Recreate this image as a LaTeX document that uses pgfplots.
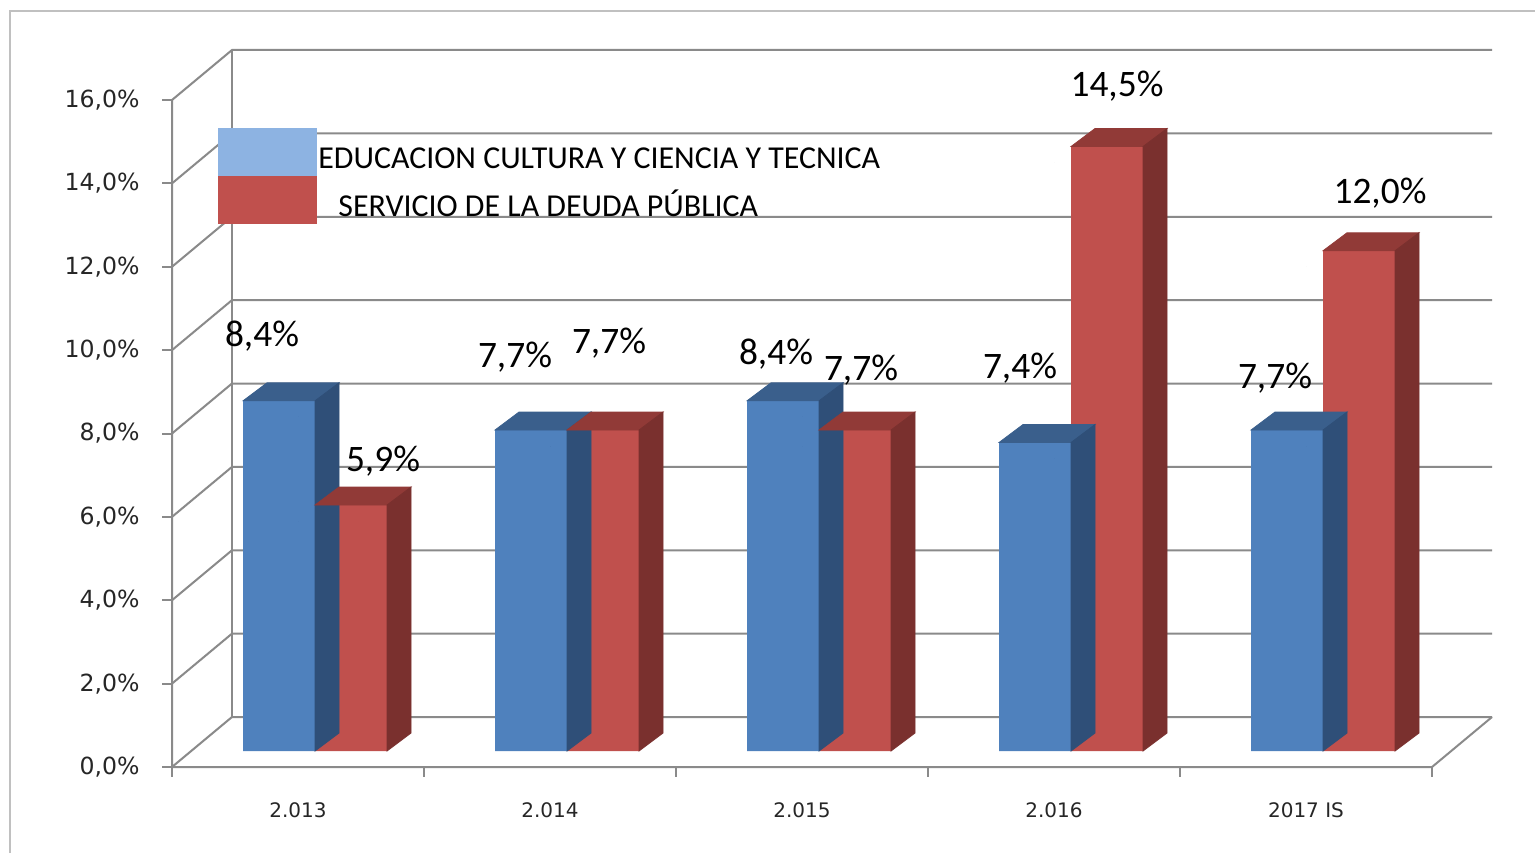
\documentclass[border=0pt]{standalone}
\usepackage{pgfplots}
\pgfplotsset{compat=1.18}
\usepackage{pgfplotstable}
\usepackage{fontspec}
\setmainfont{Carlito}
\newfontfamily\dejavu{DejaVu Sans}
\newfontfamily\carlito{Carlito}

\definecolor{bfront}{HTML}{4F81BD}
\definecolor{btop}{HTML}{3A5F8C}
\definecolor{bside}{HTML}{2F4F78}
\definecolor{rfront}{HTML}{C0504D}
\definecolor{rtop}{HTML}{913A37}
\definecolor{rside}{HTML}{7A302E}
\definecolor{legblue}{HTML}{8DB3E2}
\definecolor{gridc}{HTML}{8A8A8A}
\definecolor{borderc}{HTML}{C0C0C0}

% x = category index, y = value (%), dx/dy = label offset (pt)
\pgfplotstableread{
x y dx dy
0 8.4 -26.5 32.5
1 7.7 -26 36.5
2 8.4 -21.5 23.5
3 7.4 -25.5 37
4 7.7 -24 26
}\edu
\pgfplotstableread{
x y dx dy
0 5.9 34 22
1 7.7 21 43.5
2 7.7 21 30
3 14.5 23 30
4 12.0 28.5 29
}\deuda

\begin{document}
\begin{tikzpicture}
\useasboundingbox (0,0) rectangle (767.5pt,426.5pt);
\draw[borderc, line width=1pt] (5pt,0) -- (5pt,421pt) -- (767.5pt,421pt);
\begin{axis}[
  at={(86pt,43pt)}, anchor=south west,
  scale only axis, width=630pt, height=333.5pt,
  xmin=-0.5, xmax=4.5, ymin=0, ymax=16,
  clip=false,
  axis lines*=left,
  axis line style={draw=none},
  major tick length=0pt,
  tick style={draw=none},
  xtick={0,...,4},
  xticklabels={2.013,2.014,2.015,2.016,2017 IS},
  xticklabel style={font=\dejavu\fontsize{10pt}{12pt}\selectfont, anchor=center, inner sep=0pt, yshift=-21.5pt, text=black!85},
  ytick={0,2,4,6,8,10,12,14,16},
  yticklabel={\pgfmathprintnumber[fixed,fixed zerofill,precision=1,use comma]{\tick}\%},
  yticklabel style={font=\dejavu\fontsize{11.8pt}{14pt}\selectfont, anchor=east, inner sep=0pt, xshift=-16pt, text=black!85},
  /pgf/number format/assume math mode=true,
]
% walls
\pgfplotsinvokeforeach{0,2,4,6,8,10,12,14,16}{
  \draw[gridc, line width=1pt] (axis cs:-0.5,#1) -- ([shift={(30pt,25pt)}]axis cs:-0.5,#1) -- ([shift={(30pt,25pt)}]axis cs:4.5,#1);
  \draw[gridc, line width=1pt] (axis cs:-0.5,#1) -- ([shift={(-5pt,0pt)}]axis cs:-0.5,#1);
}
\draw[gridc, line width=1pt] (axis cs:-0.5,16) -- (axis cs:-0.5,0) -- (axis cs:4.5,0) -- ([shift={(30pt,25pt)}]axis cs:4.5,0);
\draw[gridc, line width=1pt] ([shift={(30pt,25pt)}]axis cs:-0.5,0) -- ([shift={(30pt,25pt)}]axis cs:-0.5,16);
\pgfplotsinvokeforeach{-0.5,0.5,1.5,2.5,3.5,4.5}{
  \draw[gridc, line width=1pt] (axis cs:#1,0) -- ([shift={(0pt,-5pt)}]axis cs:#1,0);
}

% blue series
\addplot[ybar, bar width=36pt, bar shift=-18pt, fill=bfront, draw=none,
  xshift=8.5pt, yshift=8pt,
  visualization depends on={\thisrow{dx} \as \ldx},
  visualization depends on={\thisrow{dy} \as \ldy},
  nodes near coords={\pgfmathprintnumber[fixed,fixed zerofill,precision=1,use comma]{\pgfplotspointmeta}\%},
  every node near coord/.append style={anchor=center, xshift=\ldx pt, yshift=\ldy pt,
    font=\carlito\fontsize{18.7pt}{22pt}\selectfont, text=black}]
  table[x=x,y=y]{\edu};
\addplot[only marks, scatter, mark=*, mark size=0pt, mark options={draw=none,fill=none},
  visualization depends on={\thisrow{y}*20.84375 \as \h},
  scatter/@pre marker code/.code={
    \fill[btop] (-27.5pt,8pt) -- (8.5pt,8pt) -- (20.5pt,17pt) -- (-15.5pt,17pt) -- cycle;
    \fill[bside] (8.5pt,8pt) -- (8.5pt,{8pt-\h pt}) -- (20.5pt,{17pt-\h pt}) -- (20.5pt,17pt) -- cycle;
  },
  scatter/@post marker code/.code={}]
  table[x=x,y=y]{\edu};

% red series
\addplot[ybar, bar width=36pt, bar shift=18pt, fill=rfront, draw=none,
  xshift=8.5pt, yshift=8pt,
  visualization depends on={\thisrow{dx} \as \ldx},
  visualization depends on={\thisrow{dy} \as \ldy},
  nodes near coords={\pgfmathprintnumber[fixed,fixed zerofill,precision=1,use comma]{\pgfplotspointmeta}\%},
  every node near coord/.append style={anchor=center, xshift=\ldx pt, yshift=\ldy pt,
    font=\carlito\fontsize{18.7pt}{22pt}\selectfont, text=black}]
  table[x=x,y=y]{\deuda};
\addplot[only marks, scatter, mark=*, mark size=0pt, mark options={draw=none,fill=none},
  visualization depends on={\thisrow{y}*20.84375 \as \h},
  scatter/@pre marker code/.code={
    \fill[rtop] (8.5pt,8pt) -- (44.5pt,8pt) -- (56.5pt,17pt) -- (20.5pt,17pt) -- cycle;
    \fill[rside] (44.5pt,8pt) -- (44.5pt,{8pt-\h pt}) -- (56.5pt,{17pt-\h pt}) -- (56.5pt,17pt) -- cycle;
  },
  scatter/@post marker code/.code={}]
  table[x=x,y=y]{\deuda};
\end{axis}
% legend
\fill[legblue] (109pt,338.5pt) rectangle (158.5pt,362.5pt);
\fill[rfront] (109pt,314.5pt) rectangle (158.5pt,338.5pt);
\node[anchor=base west, inner sep=0pt, font=\carlito\fontsize{15.95pt}{18pt}\selectfont] at (159pt,342pt) {EDUCACION CULTURA Y CIENCIA Y TECNICA};
\node[anchor=base west, inner sep=0pt, font=\carlito\fontsize{15.95pt}{18pt}\selectfont] at (169pt,318pt) {SERVICIO DE LA DEUDA PÚBLICA};
\end{tikzpicture}
\end{document}
